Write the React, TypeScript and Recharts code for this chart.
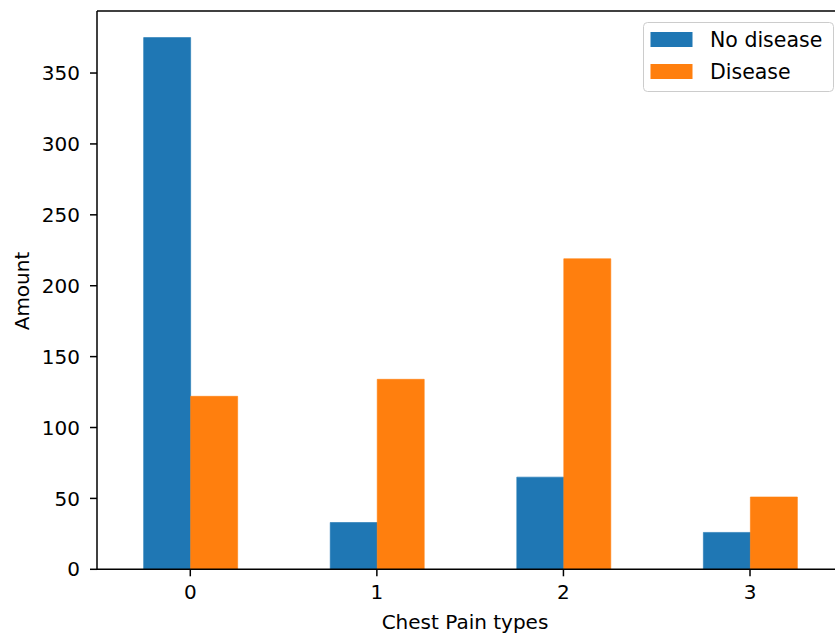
import React from 'react';
import { BarChart, Bar, XAxis, YAxis, Legend, ReferenceLine, Label } from 'recharts';

const categories = ['0', '1', '2', '3'];
const noDisease = [375, 33, 65, 26];
const disease = [122, 134, 219, 51];
const yTicks = [0, 50, 100, 150, 200, 250, 300, 350];
const seriesNames = ['No disease', 'Disease'];
const seriesColors = ['#1f77b4', '#ff7f0e'];

const data = categories.map((c, i) => ({ type: c, noDisease: noDisease[i], disease: disease[i] }));

const FONT = '"DejaVu Sans", sans-serif';
const FS = 20;
const YMAX = 393.75;

const LegendBox = () => (
  <svg width={191} height={70} style={{ display: 'block' }}>
    <rect x={0.5} y={0.5} width={190} height={69} rx={4} ry={4} fill="#ffffff" fillOpacity={0.8} stroke="#cccccc" strokeWidth={1} />
    {seriesNames.map((n, i) => (
      <g key={n}>
        <rect x={7.5} y={10 + i * 32} width={42} height={15} fill={seriesColors[i]} />
        <text x={67} y={24.5 + i * 32} fontFamily={FONT} fontSize={20.5} fill="#000">{n}</text>
      </g>
    ))}
  </svg>
);

export default function App() {
  return (
    <div style={{ position: 'absolute', left: 0, top: 0, width: 835, height: 634, overflow: 'hidden', background: '#fff' }}>
      <BarChart
        width={850}
        height={634}
        data={data}
        margin={{ top: 11, right: 6.7, bottom: 0, left: 0 }}
        barCategoryGap="25%"
        barGap={0}
      >
        <XAxis
          dataKey="type"
          height={64.7}
          tickSize={7}
          tickMargin={8}
          axisLine={{ stroke: '#000', strokeWidth: 1.5 }}
          tickLine={{ stroke: '#000', strokeWidth: 1.5 }}
          tick={{ fill: '#000', fontFamily: FONT, fontSize: FS }}
          interval={0}
        >
          <Label
            content={() => (
              <text x={465} y={629} textAnchor="middle" fontFamily={FONT} fontSize={FS} fill="#000">Chest Pain types</text>
            )}
          />
        </XAxis>
        <YAxis
          width={97}
          domain={[0, YMAX]}
          ticks={yTicks}
          allowDataOverflow
          tickSize={7}
          tickMargin={10}
          axisLine={{ stroke: '#000', strokeWidth: 1.5 }}
          tickLine={{ stroke: '#000', strokeWidth: 1.5 }}
          tick={{ fill: '#000', fontFamily: FONT, fontSize: FS }}
        >
          <Label
            content={() => (
              <text x={29} y={291} transform="rotate(-90, 29, 291)" textAnchor="middle" fontFamily={FONT} fontSize={FS} fill="#000">Amount</text>
            )}
          />
        </YAxis>
        <ReferenceLine y={YMAX} stroke="#000" strokeWidth={1.5} />
        <Bar dataKey="noDisease" name={seriesNames[0]} fill={seriesColors[0]} stroke={seriesColors[0]} strokeWidth={0.6} isAnimationActive={false} />
        <Bar dataKey="disease" name={seriesNames[1]} fill={seriesColors[1]} stroke={seriesColors[1]} strokeWidth={0.6} isAnimationActive={false} />
        <Legend
          layout="vertical"
          align="center"
          verticalAlign="middle"
          content={() => <LegendBox />}
          wrapperStyle={{ position: 'absolute', left: 643, top: 22, width: 191, height: 70 }}
        />
      </BarChart>
    </div>
  );
}
